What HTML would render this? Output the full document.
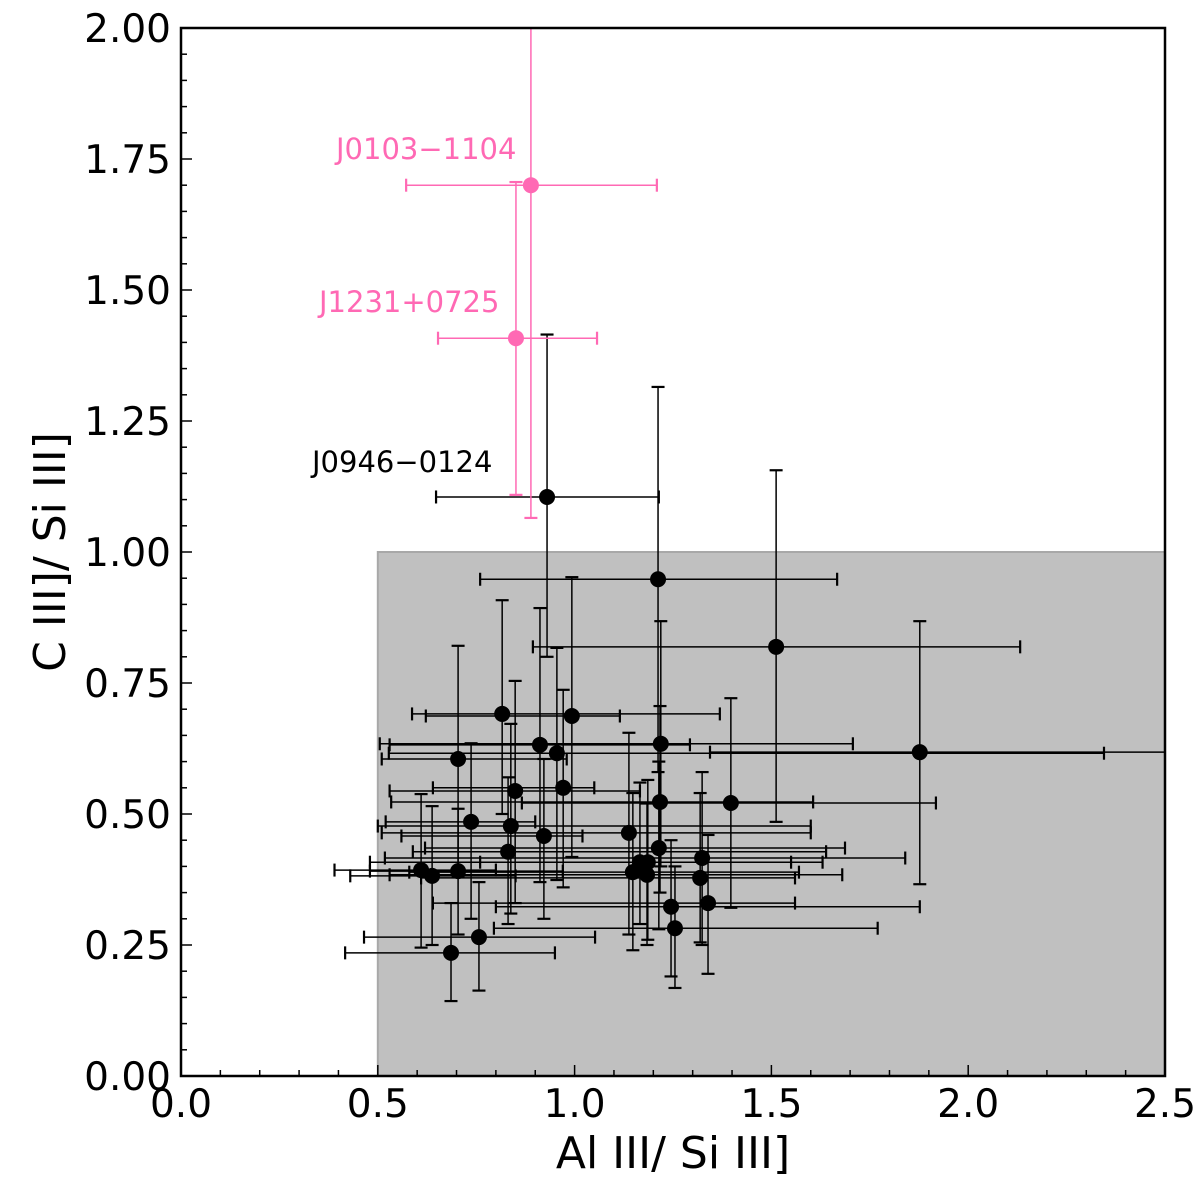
<!DOCTYPE html>
<html><head><meta charset="utf-8"><style>
body{margin:0;background:#fff}
svg text{font-family:"DejaVu Sans","Liberation Sans",sans-serif}
</style></head><body>
<svg id="chart" width="1200" height="1178" xmlns="http://www.w3.org/2000/svg">
<g id="plot"></g>
</svg>
<script>
const xs  =[0.930,1.212,1.512,1.877,0.816,0.993,0.912,0.955,1.219,0.704,1.397,1.217,0.849,0.971,0.737,0.838,0.922,1.138,0.831,1.214,1.324,0.610,0.638,0.704,1.166,1.186,1.148,1.184,1.319,1.339,1.245,1.255,0.757,0.686];
const ys  =[1.105,0.948,0.819,0.618,0.691,0.687,0.632,0.616,0.634,0.605,0.521,0.523,0.544,0.550,0.485,0.477,0.458,0.464,0.428,0.435,0.416,0.393,0.382,0.391,0.408,0.408,0.389,0.384,0.378,0.330,0.323,0.282,0.265,0.235];
const xlo =[0.648,0.760,0.894,1.344,0.587,0.622,0.530,0.528,0.505,0.510,0.866,0.534,0.530,0.640,0.520,0.500,0.560,0.510,0.589,0.620,0.518,0.390,0.430,0.480,0.480,0.760,0.580,0.530,0.610,0.640,0.800,0.795,0.465,0.417];
const xhi =[1.214,1.667,2.132,2.600,1.369,1.115,1.293,2.345,1.707,0.980,1.918,1.606,1.166,1.050,0.900,1.600,1.020,1.600,1.639,1.687,1.840,0.800,0.850,0.970,1.550,1.630,1.570,1.680,1.560,1.560,1.877,1.770,1.052,0.950];
const ylo =[0.800,0.580,0.485,0.366,0.500,0.418,0.370,0.374,0.400,0.380,0.321,0.350,0.330,0.360,0.300,0.310,0.300,0.270,0.290,0.280,0.250,0.245,0.250,0.270,0.290,0.260,0.240,0.250,0.255,0.195,0.190,0.168,0.163,0.143];
const yhi =[1.415,1.315,1.156,0.868,0.908,0.952,0.893,0.817,0.868,0.821,0.721,0.706,0.754,0.737,0.635,0.672,0.605,0.655,0.570,0.600,0.580,0.538,0.515,0.510,0.560,0.565,0.540,0.520,0.540,0.460,0.450,0.400,0.370,0.330];
const pxs=[0.889,0.851], pys=[1.700,1.408], pxlo=[0.572,0.653], pxhi=[1.209,1.057], pylo=[1.065,1.109], pyhi=[2.100,1.706];
const pLabels=["J0103\u22121104","J1231+0725"];
const xTicks=[0,0.5,1,1.5,2,2.5], xTickLabels=["0.0","0.5","1.0","1.5","2.0","2.5"];
const yTicks=[0,0.25,0.5,0.75,1,1.25,1.5,1.75,2], yTickLabels=["0.00","0.25","0.50","0.75","1.00","1.25","1.50","1.75","2.00"];

const L=181,R=1165,T=28,B=1076;
const X=v=>L+(v/2.5)*(R-L), Y=v=>B-(v/2)*(B-T);
const ns="http://www.w3.org/2000/svg", g=document.getElementById('plot');
function mk(t,a,p){const e=document.createElementNS(ns,t);for(const k in a)e.setAttribute(k,a[k]);(p||g).appendChild(e);return e;}

const clip=mk('clipPath',{id:'c'});mk('rect',{x:L,y:T,width:R-L,height:B-T},clip);
const shade=mk('rect',{x:X(0.5),y:Y(1),width:R-X(0.5),height:B-Y(1),fill:'#c0c0c0',stroke:'#a8a8a8','stroke-width':2});


const pg=mk('g',{'clip-path':'url(#c)'});

function drawPt(x,y,xl,xh,yl,yh,col,name){
  const grp=mk('g',{},pg);
  
  
  const s={stroke:col,'stroke-width':1.5};
  const c={stroke:col,'stroke-width':2.2};
  mk('line',Object.assign({x1:X(xl),x2:X(xh),y1:Y(y),y2:Y(y)},s),grp);
  mk('line',Object.assign({x1:X(x),x2:X(x),y1:Y(yl),y2:Y(yh)},s),grp);
  [xl,xh].forEach(v=>mk('line',Object.assign({x1:X(v),x2:X(v),y1:Y(y)-6.5,y2:Y(y)+6.5},c),grp));
  [yl,yh].forEach(v=>mk('line',Object.assign({x1:X(x)-6.5,x2:X(x)+6.5,y1:Y(v),y2:Y(v)},c),grp));
  mk('circle',{cx:X(x),cy:Y(y),r:8,fill:col},grp);
}
for(let i=0;i<xs.length;i++)drawPt(xs[i],ys[i],xlo[i],xhi[i],ylo[i],yhi[i],'#000','data-point');
for(let i=0;i<pxs.length;i++)drawPt(pxs[i],pys[i],pxlo[i],pxhi[i],pylo[i],pyhi[i],'#ff69b4','highlight-point');

function lab(x,y,txt,col,name){const t=mk('text',{x:x,y:y,'font-size':29,fill:col});t.textContent=txt;
  
  }
lab(336,159,pLabels[0],'#ff69b4','label-j0103');
lab(319,312,pLabels[1],'#ff69b4','label-j1231');
lab(312,472,'J0946\u22120124','#000','label-j0946');

for(let v=0;v<=2.5001;v+=0.1){const maj=Math.abs(v*2-Math.round(v*2))<1e-6;mk('line',{x1:X(v),x2:X(v),y1:B,y2:B-(maj?11:6),stroke:'#000','stroke-width':1.5});}
for(let v=0;v<=2.0001;v+=0.05){const maj=Math.abs(v*4-Math.round(v*4))<1e-6;mk('line',{x1:L,x2:L+(maj?11:6),y1:Y(v),y2:Y(v),stroke:'#000','stroke-width':1.5});}
xTicks.forEach((v,i)=>{const t=mk('text',{x:X(v),y:1117,'font-size':39,'text-anchor':'middle'});t.textContent=xTickLabels[i];
  
  });
yTicks.forEach((v,i)=>{const t=mk('text',{x:171,y:Y(v)+14,'font-size':39,'text-anchor':'end'});t.textContent=yTickLabels[i];
  
  });
const fr=mk('rect',{x:L,y:T,width:R-L,height:B-T,fill:'none',stroke:'#000','stroke-width':2.5});


const xt=mk('text',{x:673,y:1168,'font-size':44,'text-anchor':'middle'});xt.textContent='Al III/ Si III]';


const yt=mk('text',{x:0,y:0,'font-size':44,'text-anchor':'middle',transform:'translate(65,552) rotate(-90)'});yt.textContent='C III]/ Si III]';


</script>
</body></html>
